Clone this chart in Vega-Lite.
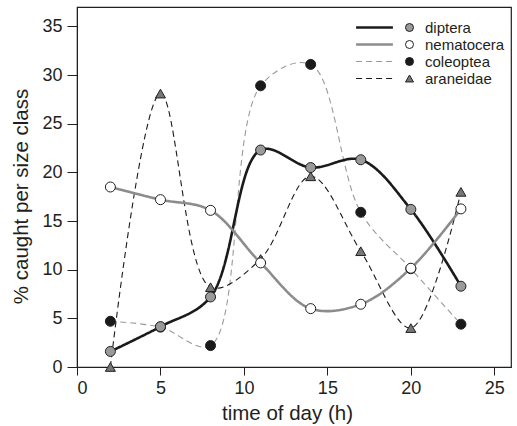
{
  "$schema": "https://vega.github.io/schema/vega-lite/v6.json",
  "width": 434,
  "height": 360,
  "autosize": {"type": "none"},
  "padding": {"left": 77, "top": 7, "right": 6, "bottom": 59},
  "background": "white",
  "config": {
    "font": "Liberation Sans",
    "view": {"stroke": "#231f20", "strokeWidth": 1.2},
    "axis": {
      "grid": false,
      "domainColor": "#231f20",
      "tickColor": "#231f20",
      "labelFont": "Liberation Sans",
      "labelFontSize": 18,
      "labelColor": "#231f20",
      "titleFont": "Liberation Sans",
      "titleFontSize": 20.5,
      "titleFontWeight": "normal",
      "titleColor": "#231f20"
    },
    "legend": {
      "labelFont": "Liberation Sans",
      "labelFontSize": 15,
      "labelColor": "#231f20"
    }
  },
  "data": {
    "values": [
      {"time": 2, "species": "coleoptea", "pct": 4.7},
      {"time": 5, "species": "coleoptea", "pct": 4.1},
      {"time": 8, "species": "coleoptea", "pct": 2.2},
      {"time": 11, "species": "coleoptea", "pct": 28.9},
      {"time": 14, "species": "coleoptea", "pct": 31.1},
      {"time": 17, "species": "coleoptea", "pct": 15.9},
      {"time": 20, "species": "coleoptea", "pct": 10.1},
      {"time": 23, "species": "coleoptea", "pct": 4.4},
      {"time": 2, "species": "araneidae", "pct": 0},
      {"time": 5, "species": "araneidae", "pct": 28.1},
      {"time": 8, "species": "araneidae", "pct": 8.2},
      {"time": 11, "species": "araneidae", "pct": 11.1},
      {"time": 14, "species": "araneidae", "pct": 19.6},
      {"time": 17, "species": "araneidae", "pct": 11.9},
      {"time": 20, "species": "araneidae", "pct": 4.0},
      {"time": 23, "species": "araneidae", "pct": 18.0},
      {"time": 2, "species": "diptera", "pct": 1.6},
      {"time": 5, "species": "diptera", "pct": 4.15},
      {"time": 8, "species": "diptera", "pct": 7.2},
      {"time": 11, "species": "diptera", "pct": 22.3},
      {"time": 14, "species": "diptera", "pct": 20.5},
      {"time": 17, "species": "diptera", "pct": 21.3},
      {"time": 20, "species": "diptera", "pct": 16.2},
      {"time": 23, "species": "diptera", "pct": 8.3},
      {"time": 2, "species": "nematocera", "pct": 18.5},
      {"time": 5, "species": "nematocera", "pct": 17.2},
      {"time": 8, "species": "nematocera", "pct": 16.1},
      {"time": 11, "species": "nematocera", "pct": 10.7},
      {"time": 14, "species": "nematocera", "pct": 6.0},
      {"time": 17, "species": "nematocera", "pct": 6.45},
      {"time": 20, "species": "nematocera", "pct": 10.15},
      {"time": 23, "species": "nematocera", "pct": 16.25}
    ]
  },
  "encoding": {
    "x": {
      "field": "time",
      "type": "quantitative",
      "scale": {"domain": [0, 26], "nice": false},
      "axis": {"values": [0, 5, 10, 15, 20, 25], "title": "time of day (h)", "tickSize": 8, "labelPadding": 4, "titleX": 210, "titleY": 36, "titleBaseline": "top"}
    },
    "y": {
      "field": "pct",
      "type": "quantitative",
      "scale": {"domain": [0, 37], "nice": false},
      "axis": {"values": [0, 5, 10, 15, 20, 25, 30, 35], "title": "% caught per size class", "tickSize": 10, "labelPadding": 5, "titleX": -46, "titleY": 189}
    }
  },
  "layer": [
    {
      "mark": {"type": "line", "interpolate": "catmull-rom"},
      "encoding": {
        "stroke": {
          "field": "species",
          "type": "nominal",
          "scale": {"domain": ["diptera", "nematocera", "coleoptea", "araneidae"], "range": ["#1a1a1a", "#8c8c8c", "#9a9a9a", "#1a1a1a"]},
          "legend": {"orient": "none", "legendX": 290, "legendY": 13, "title": null, "symbolType": "M-4.6,0H4.6", "symbolSize": 64, "labelExpr": "''", "rowPadding": 1, "padding": 0, "labelOffset": 0}
        },
        "strokeDash": {
          "field": "species",
          "type": "nominal",
          "scale": {"domain": ["diptera", "nematocera", "coleoptea", "araneidae"], "range": [[1, 0], [1, 0], [6, 4], [6, 4]]},
          "legend": {"orient": "none", "legendX": 290, "legendY": 13, "title": null, "symbolType": "M-4.6,0H4.6", "symbolSize": 64, "labelExpr": "''", "rowPadding": 1, "padding": 0, "labelOffset": 0}
        },
        "strokeWidth": {
          "field": "species",
          "type": "nominal",
          "scale": {"type": "ordinal", "domain": ["diptera", "nematocera", "coleoptea", "araneidae"], "range": [2.6, 2.6, 1.1, 1.1]},
          "legend": {"orient": "none", "legendX": 290, "legendY": 13, "title": null, "symbolType": "M-4.6,0H4.6", "symbolSize": 64, "labelExpr": "''", "rowPadding": 1, "padding": 0, "labelOffset": 0}
        }
      }
    },
    {
      "mark": {"type": "point", "filled": true, "size": 100, "stroke": "#231f20", "strokeWidth": 1, "opacity": 1},
      "encoding": {
        "fill": {
          "field": "species",
          "type": "nominal",
          "sort": ["diptera", "nematocera", "coleoptea", "araneidae"],
          "scale": {"range": ["#9a9a9a", "#ffffff", "#1a1a1a", "#777777"]},
          "legend": {
            "orient": "none", "legendX": 325, "legendY": 13, "title": null, "symbolSize": 64,
            "symbolType": {"expr": "datum.value === 'araneidae' ? 'triangle-up' : 'circle'"},
            "symbolStrokeColor": "#231f20", "symbolStrokeWidth": 1, "rowPadding": 1, "padding": 0, "labelOffset": 8
          }
        },
        "shape": {
          "field": "species",
          "type": "nominal",
          "sort": ["diptera", "nematocera", "coleoptea", "araneidae"],
          "scale": {"range": ["circle", "circle", "circle", "triangle-up"]},
          "legend": null
        }
      }
    }
  ]
}
